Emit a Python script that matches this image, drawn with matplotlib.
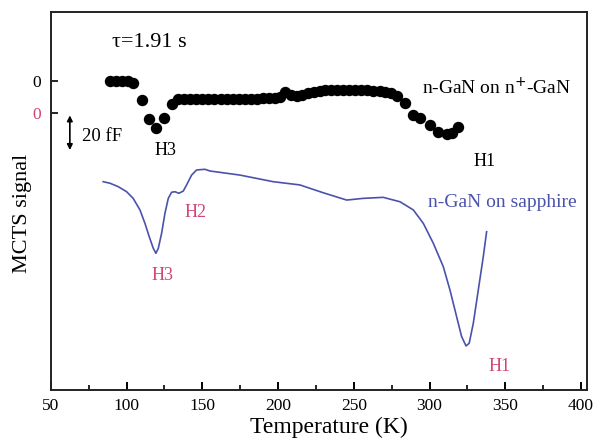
import matplotlib
matplotlib.use("Agg")
import matplotlib.pyplot as plt
from matplotlib.ticker import MultipleLocator

plt.rcParams['font.family'] = ['Liberation Serif', 'DejaVu Serif']

# n-GaN on n+-GaN (points), signal in fF relative to its own zero
t_np = [89.0, 92.9, 96.9, 100.8, 104.2, 110.1, 114.7, 119.3, 124.6, 129.9,
        133.9, 138, 142, 146, 150, 154, 158, 162, 166, 170, 174, 178, 182,
        186, 190, 194, 198, 201, 204.5, 208.5, 212.4, 216, 220, 224, 227.6,
        231, 235, 239, 243, 247, 251, 255, 259, 263, 267, 270.5, 274.5,
        278.5, 283.8, 289.0, 293.7, 300.3, 305.6, 311.5, 314.8, 318.8]
s_np = [0, 0, 0, 0, -1.2, -11.2, -22.3, -27.6, -21.8, -13.5,
        -10.8, -10.8, -10.8, -10.7, -10.7, -10.6, -10.6, -10.6, -10.5, -10.5,
        -10.4, -10.4, -10.3, -10.3, -10.2, -10.2, -10.0, -9.6, -6.5, -8.0,
        -8.8, -8.0, -7.0, -6.2, -5.6, -5.4, -5.3, -5.3, -5.3, -5.3, -5.4,
        -5.4, -5.5, -5.6, -5.9, -6.3, -7.0, -8.8, -12.9, -20.0, -21.6, -25.9,
        -29.8, -31.2, -30.6, -26.9]

# n-GaN on sapphire (line), signal in fF relative to its own zero
t_sa = [84.5, 89.0, 94.4, 100.0, 104.3, 108.8, 112.1, 114.9, 117.6, 119.3,
        120.9, 123.1, 125.3, 127.5, 129.7, 131.9, 134.5, 137.4, 139.6, 142.9,
        146.2, 151.7, 155.0, 174.8, 196.8, 214.4, 229.8, 245.3, 256.2, 269.4,
        280.5, 289.3, 295.9, 302.5, 309.1, 313.5, 317.9, 321.2, 324.1, 326.2,
        328.9, 332.2, 335.5, 337.7]
s_sa = [-40.4, -41.3, -43.3, -46.3, -50.2, -57.0, -64.9, -72.7, -79.6, -82.5,
        -79.6, -70.7, -59.0, -50.2, -46.6, -46.3, -47.2, -45.9, -42.3, -36.5,
        -33.5, -33.1, -34.1, -36.5, -40.4, -42.3, -46.9, -51.2, -50.2, -49.6,
        -52.2, -57.0, -64.9, -76.6, -90.4, -104.1, -119.8, -131.5, -137.0,
        -135.4, -123.7, -104.1, -84.5, -69.8]

off_np = 181.7
off_sa = 162.9

pink = '#d0457a'
blue = '#4a52ac'

fig = plt.figure(figsize=(5.99, 4.38), dpi=100)
ax = fig.add_axes([0.085, 0.1096, 0.895, 0.863])

ax.plot(t_np, [v + off_np for v in s_np], 'o', color='black', markersize=7.2)
ax.plot(t_sa, [v + off_sa for v in s_sa], '-', color=blue, linewidth=1.2)

ax.set_xlim(50, 404)
ax.set_ylim(0, 222.3)
ax.xaxis.set_major_locator(MultipleLocator(50))
ax.xaxis.set_minor_locator(MultipleLocator(25))
ax.tick_params(axis='x', which='major', direction='in', length=6, width=1.4,
               labelsize=12.5, pad=6)
ax.tick_params(axis='x', which='minor', direction='in', length=3.5, width=1.2)
ax.set_yticks([off_sa, off_np])
ax.set_yticklabels(['0', '0'])
ax.tick_params(axis='y', direction='in', length=5, width=1.2, labelsize=12.5, pad=7)
ax.get_yticklabels()[0].set_color(pink)
ax.yaxis.get_major_ticks()[0].tick1line.set_color('#7cc04a')
for sp in ax.spines.values():
    sp.set_linewidth(1.4)
    sp.set_color('#222222')

ax.set_xlabel('Temperature (K)', fontsize=17)
ax.xaxis.set_label_coords(0.519, -0.071)
ax.set_ylabel('MCTS signal', fontsize=16)
ax.yaxis.set_label_coords(-0.036, 0.468)

ax.text(90.3, 204.6, 'τ=1.91 s', fontsize=16, va='center')
ax.text(295, 177.6, 'n-GaN on n$^{+}$-GaN', fontsize=14, va='center')
ax.text(329, 134.5, 'H1', fontsize=13, va='center')
ax.text(126.0, 141.1, 'H3', fontsize=13, va='center', ha='center')
ax.text(70.5, 149.0, '20 fF', fontsize=13.5, va='center')
ax.annotate('', xy=(62.5, 141.1), xytext=(62.5, 161.5),
            arrowprops=dict(arrowstyle='<|-|>', color='black', lw=1.2,
                            mutation_scale=8, shrinkA=0, shrinkB=0))
ax.text(299, 110.0, 'n-GaN on sapphire', fontsize=14, va='center', color=blue)
ax.text(145.2, 104.5, 'H2', fontsize=13, va='center', ha='center', color=pink)
ax.text(124.0, 67.6, 'H3', fontsize=13, va='center', ha='center', color=pink)
ax.text(346.5, 13.7, 'H1', fontsize=13, va='center', ha='center', color=pink)

fig.savefig('out.png', dpi=100)
